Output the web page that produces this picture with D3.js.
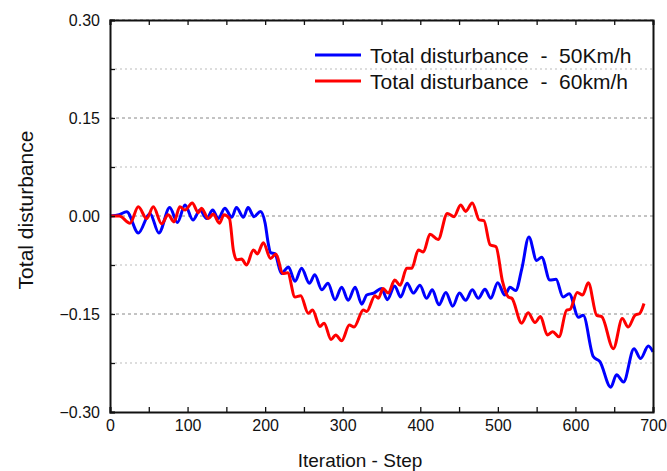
<!DOCTYPE html>
<html>
<head>
<meta charset="utf-8">
<script src="https://cdn.jsdelivr.net/npm/d3@7"></script>
<style>
  body { margin: 0; background: #fff; }
  text { font-family: "Liberation Sans", Arial, sans-serif; fill: #111; }
</style>
</head>
<body>
<div id="chart"></div>
<script>
// data
const steps50 = [0, 12, 21.5, 36.5, 51.5, 63, 77, 87, 96.7, 107, 116, 124.6, 132.4, 139.6, 148, 157, 163, 172, 178, 185.6, 194, 200, 204, 207, 212.7, 221, 230, 238.5, 247, 257, 264, 273, 281, 290, 298.7, 307, 316, 324.5, 331, 340, 350, 357.5, 367, 374.7, 383, 391, 399.6, 408, 415.5, 424, 433, 441.8, 450.4, 458.5, 467, 474.8, 483.4, 490.8, 499.8, 509, 515.6, 523, 531, 540, 550, 556.5, 567, 575, 584, 592, 604, 610, 623, 631.6, 645.5, 653, 662, 675.5, 684, 694, 700]
const dist50 = [0, 0.002, 0.0066, -0.026, 0.004, -0.026, 0.013, -0.010, 0.017, -0.006, 0.009, -0.004, 0.009, -0.004, 0.012, -0.002, 0.013, -0.002, 0.013, -0.001, 0.007, -0.011, -0.042, -0.056, -0.058, -0.088, -0.078, -0.100, -0.080, -0.103, -0.090, -0.113, -0.103, -0.128, -0.109, -0.129, -0.109, -0.135, -0.121, -0.118, -0.111, -0.128, -0.107, -0.124, -0.103, -0.118, -0.106, -0.126, -0.113, -0.136, -0.117, -0.138, -0.118, -0.129, -0.113, -0.126, -0.112, -0.126, -0.102, -0.121, -0.109, -0.114, -0.080, -0.032, -0.068, -0.063, -0.098, -0.097, -0.124, -0.119, -0.155, -0.152, -0.215, -0.223, -0.262, -0.243, -0.254, -0.203, -0.218, -0.199, -0.208]

const steps60 = [0, 12, 25.8, 36.5, 47.3, 55.8, 66.6, 75, 82.5, 90, 96.7, 106, 114, 118, 126.7, 133, 141, 147, 154, 159, 163, 169.7, 176, 184.8, 190, 197.6, 207, 214, 222.6, 229, 238.5, 245.8, 255.6, 261, 270.7, 276, 285, 291, 298.7, 308.5, 314.6, 326.6, 331, 341.6, 346, 352, 358.8, 367, 374, 382.5, 389, 397.5, 404, 412.5, 423, 434.8, 443.5, 452, 458.5, 467, 476, 482, 490, 497.6, 506, 513.5, 518, 530.7, 539, 547.9, 555, 563.7, 570.7, 578.8, 588.7, 593, 602.4, 609.3, 616.6, 627.4, 633.9, 648.9, 660.4, 668, 676.8, 683, 688.4]
const dist60 = [0, 0, -0.011, 0.014, -0.004, 0.014, -0.012, 0.002, -0.009, 0.014, 0.009, 0.020, 0.005, 0.012, -0.004, 0.003, -0.011, 0.002, -0.004, -0.052, -0.067, -0.066, -0.075, -0.052, -0.058, -0.041, -0.065, -0.058, -0.088, -0.087, -0.124, -0.122, -0.149, -0.144, -0.169, -0.164, -0.189, -0.182, -0.191, -0.167, -0.170, -0.144, -0.146, -0.122, -0.126, -0.111, -0.118, -0.098, -0.106, -0.080, -0.080, -0.052, -0.055, -0.028, -0.036, 0.004, -0.001, 0.017, 0.007, 0.020, -0.006, -0.007, -0.044, -0.047, -0.100, -0.124, -0.126, -0.164, -0.148, -0.163, -0.154, -0.182, -0.177, -0.185, -0.144, -0.143, -0.117, -0.121, -0.102, -0.152, -0.154, -0.203, -0.157, -0.170, -0.152, -0.149, -0.134]

const xTicks = [0, 100, 200, 300, 400, 500, 600, 700]
const yTicks = [-0.30, -0.15, 0.00, 0.15, 0.30]
const legendNames = ["Total disturbance  -  50Km/h", "Total disturbance  -  60km/h"]
const colors = ["#0000ff", "#ff0000"]

const width = 667
const height = 471
const margin = {top: 20, right: 14, bottom: 59, left: 110}
const w = width - margin.left - margin.right
const h = height - margin.top - margin.bottom

const svg = d3.select("#chart").append("svg")
    .attr("width", width)
    .attr("height", height)

const g = svg.append("g")
    .attr("transform", "translate(" + margin.left + "," + margin.top + ")")

const x = d3.scaleLinear().domain([0, 700]).range([0, w])
const y = d3.scaleLinear().domain([-0.3, 0.3]).range([h, 0])

// grid lines every 0.075
d3.range(-0.225, 0.3, 0.075).forEach(v => {
    const major = Math.abs(Math.round(v / 0.075)) % 2 === 0
    g.append("line")
        .attr("x1", 0).attr("x2", w)
        .attr("y1", y(v)).attr("y2", y(v))
        .attr("stroke", major ? "#888" : "#bbb")
        .attr("stroke-width", 1)
        .attr("stroke-dasharray", major ? "3,3" : "2,3")
})

// lines
const series = [
    steps50.map((s, i) => [s, dist50[i]]),
    steps60.map((s, i) => [s, dist60[i]])
]
const line = d3.line()
    .x(d => x(d[0]))
    .y(d => y(d[1]))
    .curve(d3.curveMonotoneX)

series.forEach((pts, i) => {
    g.append("path")
        .datum(pts)
        .attr("fill", "none")
        .attr("stroke", colors[i])
        .attr("stroke-width", 3)
        .attr("stroke-linejoin", "round")
        .attr("d", line)
})

// axes
const xAxis = g.append("g")
    .attr("transform", "translate(0," + h + ")")
    .call(d3.axisBottom(x).tickValues(d3.range(0, 701, 50)).tickSize(-5).tickPadding(8)
        .tickFormat(d => xTicks.includes(d) ? d : ""))
const yAxis = g.append("g")
    .call(d3.axisLeft(y).tickValues(d3.range(-0.3, 0.301, 0.075)).tickSize(-5).tickPadding(10)
        .tickFormat(d => {
            const r = Math.round(d / 0.075)
            return r % 2 === 0 ? d3.format(".2f")(d) : ""
        }))
const topAxis = g.append("g")
    .call(d3.axisTop(x).tickValues(d3.range(0, 701, 50)).tickSize(-5).tickFormat(""))
const rightAxis = g.append("g")
    .attr("transform", "translate(" + w + ",0)")
    .call(d3.axisRight(y).tickValues(d3.range(-0.3, 0.301, 0.075)).tickSize(0).tickFormat(""))

;[xAxis, yAxis, topAxis, rightAxis].forEach(a => {
    a.select(".domain").attr("stroke", "#111").attr("stroke-width", 2)
    a.selectAll(".tick line").attr("stroke", "#111").attr("stroke-width", 1.3)
    a.selectAll(".tick text").style("font-size", "16px").attr("fill", "#111")
        .style("font-family", "'Liberation Sans', Arial, sans-serif")
})

// axis titles
svg.append("text")
    .attr("x", 360)
    .attr("y", 467)
    .attr("text-anchor", "middle")
    .style("font-size", "19px")
    .text("Iteration - Step")

svg.append("text")
    .attr("transform", "translate(33," + (margin.top + 190) + ") rotate(-90)")
    .attr("text-anchor", "middle")
    .style("font-size", "21px")
    .text("Total disturbance")

// legend
legendNames.forEach((name, i) => {
    const ly = 55 + i * 26
    svg.append("line")
        .attr("x1", 315).attr("x2", 361)
        .attr("y1", ly).attr("y2", ly)
        .attr("stroke", colors[i])
        .attr("stroke-width", 3)
    svg.append("text")
        .attr("x", 370)
        .attr("y", ly + 8)
        .attr("xml:space", "preserve")
        .style("white-space", "pre")
        .style("font-size", "21px")
        .text(name)
})
</script>
</body>
</html>
